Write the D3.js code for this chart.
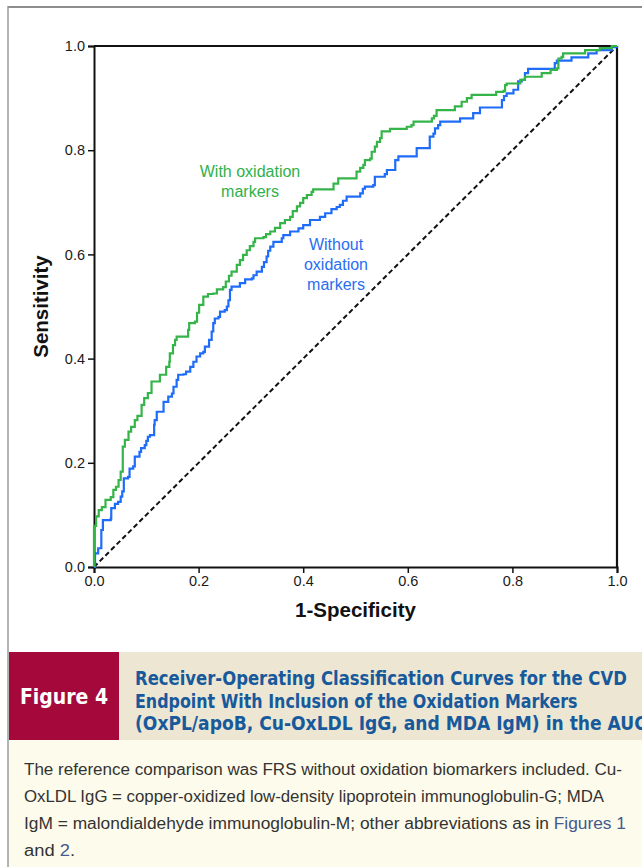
<!DOCTYPE html>
<html>
<head>
<meta charset="utf-8">
<script src="https://cdn.jsdelivr.net/npm/d3@7"></script>
<style>
  html, body { margin: 0; padding: 0; background: #fff; }
  svg { display: block; }
</style>
</head>
<body>
<div id="figure"></div>
<script>
// ROC step points: [1-specificity, sensitivity] where the curve jumps up
const withOxidation = [
  [0, 0], [0, 0.079], [0.004, 0.097], [0.009, 0.109], [0.015, 0.115], [0.022, 0.129],
  [0.032, 0.134], [0.037, 0.148], [0.042, 0.154], [0.047, 0.167], [0.051, 0.183],
  [0.055, 0.231], [0.059, 0.244], [0.066, 0.260], [0.071, 0.269], [0.078, 0.282],
  [0.083, 0.290], [0.091, 0.311], [0.096, 0.324], [0.103, 0.334], [0.110, 0.356],
  [0.126, 0.369], [0.138, 0.384], [0.144, 0.394], [0.145, 0.410], [0.151, 0.426],
  [0.155, 0.436], [0.158, 0.442], [0.180, 0.455], [0.182, 0.468], [0.193, 0.471],
  [0.197, 0.488], [0.201, 0.503], [0.209, 0.519], [0.218, 0.524], [0.228, 0.525],
  [0.235, 0.533], [0.247, 0.537], [0.252, 0.548], [0.258, 0.559], [0.263, 0.567],
  [0.273, 0.580], [0.279, 0.589], [0.285, 0.599], [0.292, 0.608], [0.298, 0.616],
  [0.305, 0.624], [0.308, 0.631], [0.324, 0.633], [0.329, 0.639], [0.337, 0.644],
  [0.346, 0.651], [0.356, 0.660], [0.365, 0.666], [0.375, 0.672], [0.380, 0.683],
  [0.388, 0.692], [0.394, 0.699], [0.400, 0.708], [0.407, 0.714], [0.416, 0.720],
  [0.419, 0.725], [0.458, 0.736], [0.467, 0.746], [0.502, 0.759], [0.509, 0.766],
  [0.515, 0.772], [0.518, 0.781], [0.528, 0.784], [0.531, 0.797], [0.537, 0.807],
  [0.541, 0.816], [0.547, 0.823], [0.550, 0.836], [0.566, 0.841], [0.598, 0.845],
  [0.607, 0.848], [0.611, 0.855], [0.646, 0.861], [0.650, 0.866], [0.655, 0.877],
  [0.690, 0.884], [0.703, 0.893], [0.713, 0.900], [0.722, 0.906], [0.769, 0.912],
  [0.783, 0.914], [0.786, 0.925], [0.789, 0.928], [0.815, 0.935], [0.824, 0.941],
  [0.856, 0.948], [0.873, 0.954], [0.885, 0.957], [0.888, 0.976], [0.894, 0.979],
  [0.897, 0.986], [0.939, 0.992], [0.967, 0.996], [0.990, 1.0], [1, 1]
];

const withoutOxidation = [
  [0, 0], [0.002, 0.026], [0.008, 0.036], [0.014, 0.071], [0.017, 0.090], [0.032, 0.093],
  [0.033, 0.113], [0.040, 0.121], [0.046, 0.125], [0.051, 0.135], [0.054, 0.145],
  [0.057, 0.170], [0.065, 0.173], [0.068, 0.189], [0.075, 0.193], [0.078, 0.212],
  [0.087, 0.221], [0.090, 0.228], [0.097, 0.234], [0.100, 0.242], [0.103, 0.250],
  [0.107, 0.253], [0.115, 0.273], [0.116, 0.282], [0.120, 0.298], [0.133, 0.317],
  [0.142, 0.327], [0.149, 0.333], [0.152, 0.346], [0.158, 0.359], [0.161, 0.369],
  [0.171, 0.370], [0.176, 0.375], [0.184, 0.384], [0.190, 0.394], [0.196, 0.404],
  [0.203, 0.410], [0.209, 0.413], [0.212, 0.423], [0.220, 0.436], [0.225, 0.452],
  [0.228, 0.468], [0.231, 0.477], [0.238, 0.480], [0.241, 0.490], [0.250, 0.493],
  [0.254, 0.500], [0.257, 0.512], [0.260, 0.532], [0.263, 0.538], [0.279, 0.545],
  [0.289, 0.552], [0.302, 0.554], [0.305, 0.560], [0.311, 0.567], [0.321, 0.576],
  [0.325, 0.585], [0.330, 0.596], [0.333, 0.607], [0.337, 0.615], [0.343, 0.624],
  [0.359, 0.631], [0.362, 0.637], [0.375, 0.644], [0.391, 0.650], [0.400, 0.656],
  [0.413, 0.666], [0.432, 0.672], [0.442, 0.679], [0.454, 0.687], [0.464, 0.691],
  [0.470, 0.695], [0.476, 0.703], [0.483, 0.711], [0.509, 0.717], [0.514, 0.726],
  [0.518, 0.730], [0.534, 0.733], [0.537, 0.749], [0.556, 0.754], [0.560, 0.762],
  [0.576, 0.781], [0.582, 0.788], [0.617, 0.804], [0.642, 0.826], [0.649, 0.832],
  [0.652, 0.842], [0.658, 0.848], [0.662, 0.855], [0.700, 0.861], [0.725, 0.871],
  [0.738, 0.882], [0.780, 0.896], [0.784, 0.904], [0.789, 0.909], [0.802, 0.916],
  [0.811, 0.932], [0.818, 0.935], [0.824, 0.948], [0.830, 0.956], [0.881, 0.967],
  [0.885, 0.972], [0.913, 0.978], [0.945, 0.986], [0.961, 0.992], [0.990, 0.998], [1, 1]
];

const tickValues = [0, 0.2, 0.4, 0.6, 0.8, 1.0];
const xTitle = "1-Specificity";
const yTitle = "Sensitivity";
const withLabel = ["With oxidation", "markers"];
const withoutLabel = ["Without", "oxidation", "markers"];

const figureLabel = "Figure 4";
const titleLines = [
  "Receiver-Operating Classification Curves for the CVD",
  "Endpoint With Inclusion of the Oxidation Markers",
  "(OxPL/apoB, Cu-OxLDL IgG, and MDA IgM) in the AUC"
];
const captionLines = [
  [["The reference comparison was FRS without oxidation biomarkers included. Cu-", false]],
  [["OxLDL IgG = copper-oxidized low-density lipoprotein immunoglobulin-G; MDA", false]],
  [["IgM = malondialdehyde immunoglobulin-M; other abbreviations as in ", false], ["Figures 1", true]],
  [["and ", false], ["2", true], [".", false]]
];

const W = 642, H = 867;
const green = "#35b449", blue = "#1f6cf8";

const svg = d3.select("#figure").append("svg")
  .attr("width", W).attr("height", H);

/**
 * Page frame and caption blocks
 */
svg.append("line").attr("x1", 8).attr("x2", W).attr("y1", 7).attr("y2", 7)
  .attr("stroke", "#8d8d8d").attr("stroke-width", 2);
svg.append("line").attr("x1", 8).attr("x2", 8).attr("y1", 6).attr("y2", H)
  .attr("stroke", "#9a9a9a").attr("stroke-width", 1.5);

svg.append("rect").attr("x", 9).attr("y", 740).attr("width", W - 9).attr("height", H - 740)
  .attr("fill", "#fdfbec");
svg.append("rect").attr("x", 119).attr("y", 652).attr("width", W - 119).attr("height", 88)
  .attr("fill", "#ece6d3");
svg.append("rect").attr("x", 9).attr("y", 652).attr("width", 110).attr("height", 88)
  .attr("fill", "#a5093c");

const narrow = "'Liberation Sans Narrow', 'DejaVu Sans Condensed', 'Liberation Sans', sans-serif";

svg.append("text").attr("x", 64).attr("y", 704).attr("text-anchor", "middle")
  .style("font-family", narrow).style("font-weight", "bold").style("font-size", "21px")
  .attr("fill", "#fff").text(figureLabel);

// title set in a condensed face: squeeze each line horizontally to the printed width
// (the third line runs past the page edge, as in the print)
const titleLengths = [492, 443, 512];
svg.append("g").selectAll("text").data(titleLines).join("text")
  .attr("x", 0).attr("y", 0)
  .style("font-family", narrow).style("font-weight", "bold").style("font-size", "20px")
  .attr("fill", "#17599b").text(d => d)
  .each(function(d, i) {
    const sx = titleLengths[i] / this.getComputedTextLength();
    d3.select(this).attr("transform", `translate(135,${685 + i * 22.5}) scale(${sx},1)`);
  });

const captionLengths = [598, 580, 602, 51];
const cap = svg.append("g").selectAll("text").data(captionLines).join("text")
  .attr("x", 24).attr("y", (d, i) => 775 + i * 27)
  .attr("textLength", (d, i) => captionLengths[i]).attr("lengthAdjust", "spacingAndGlyphs")
  .style("font-family", "'Liberation Sans', Arial, sans-serif").style("font-size", "16px")
  .attr("fill", "#333");
cap.selectAll("tspan").data(d => d).join("tspan")
  .attr("fill", d => d[1] ? "#44598c" : "#333")
  .text(d => d[0]);

/**
 * Scales and axes
 */
const x = d3.scaleLinear().domain([0, 1]).range([94, 617]);
const y = d3.scaleLinear().domain([0, 1]).range([567, 46]);

const fmt = d3.format(".1f");
const axisFont = "'Liberation Sans', Arial, sans-serif";

const gx = svg.append("g").attr("transform", `translate(0,${y(0)})`)
  .call(d3.axisBottom(x).tickValues(tickValues).tickFormat(fmt).tickSize(6).tickPadding(3));
const gy = svg.append("g").attr("transform", `translate(${x(0)},0)`)
  .call(d3.axisLeft(y).tickValues(tickValues).tickFormat(fmt).tickSize(6).tickPadding(3));

[gx, gy].forEach(g => {
  g.select(".domain").attr("stroke", "#111").attr("stroke-width", 2);
  g.selectAll(".tick line").attr("stroke", "#111").attr("stroke-width", 1.5);
  g.selectAll(".tick text").attr("fill", "#1a1a1a")
    .style("font-family", axisFont).style("font-size", "14.5px");
});

// box: top and right edges
svg.append("line").attr("x1", x(0)).attr("x2", x(1)).attr("y1", y(1)).attr("y2", y(1))
  .attr("stroke", "#111").attr("stroke-width", 2.2);
svg.append("line").attr("x1", x(1)).attr("x2", x(1)).attr("y1", y(1)).attr("y2", y(0))
  .attr("stroke", "#111").attr("stroke-width", 2.2);

svg.append("text").attr("x", (x(0) + x(1)) / 2).attr("y", 617).attr("text-anchor", "middle")
  .style("font-family", axisFont).style("font-weight", "bold").style("font-size", "20.5px")
  .attr("fill", "#111").text(xTitle);
svg.append("text").attr("transform", `translate(48,${(y(0) + y(1)) / 2}) rotate(-90)`)
  .attr("text-anchor", "middle")
  .style("font-family", axisFont).style("font-weight", "bold").style("font-size", "20.5px")
  .attr("fill", "#111").text(yTitle);

/**
 * Reference diagonal and ROC curves
 */
svg.append("line").attr("x1", x(0)).attr("y1", y(0)).attr("x2", x(1)).attr("y2", y(1))
  .attr("stroke", "#111").attr("stroke-width", 2).attr("stroke-dasharray", "5,3");

const line = d3.line().x(d => x(d[0])).y(d => y(d[1])).curve(d3.curveStepAfter);

svg.append("path").datum(withoutOxidation).attr("d", line)
  .attr("fill", "none").attr("stroke", blue).attr("stroke-width", 2.2);
svg.append("path").datum(withOxidation).attr("d", line)
  .attr("fill", "none").attr("stroke", green).attr("stroke-width", 2.2);

svg.append("g").selectAll("text").data(withLabel).join("text")
  .attr("x", 250).attr("y", (d, i) => 177 + i * 20).attr("text-anchor", "middle")
  .style("font-family", axisFont).style("font-size", "16px")
  .attr("fill", "#2fb14a").text(d => d);
svg.append("g").selectAll("text").data(withoutLabel).join("text")
  .attr("x", 336).attr("y", (d, i) => 250 + i * 20).attr("text-anchor", "middle")
  .style("font-family", axisFont).style("font-size", "16px")
  .attr("fill", "#2a6df2").text(d => d);
</script>
</body>
</html>
